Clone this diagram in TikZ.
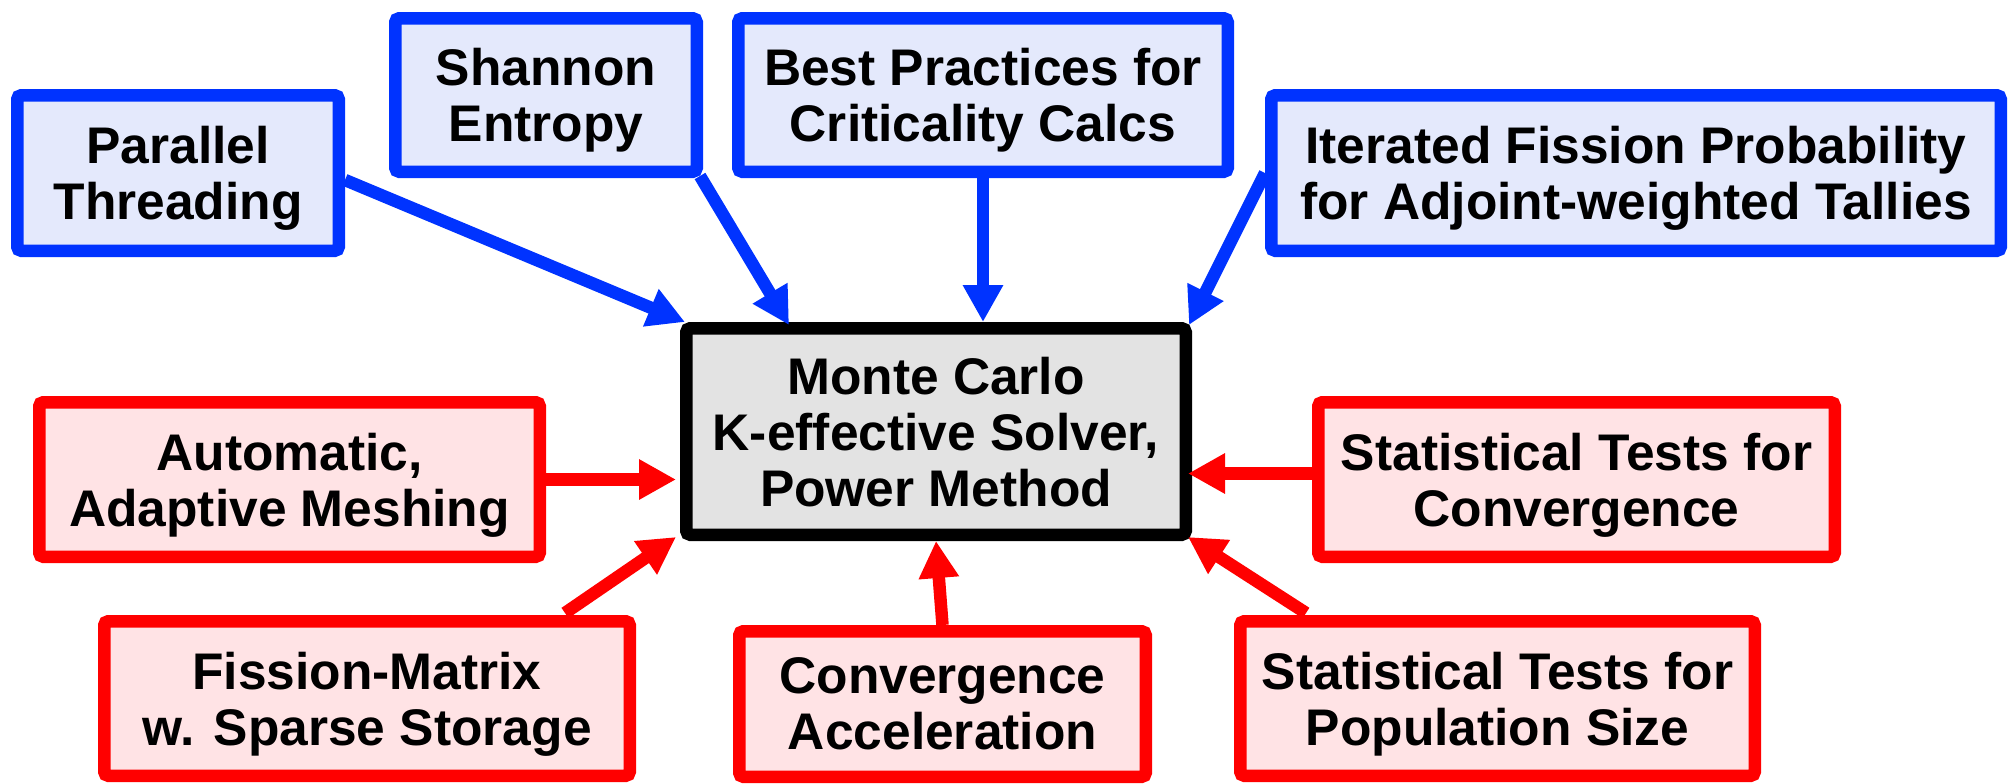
\documentclass[tikz,border=0pt]{standalone}
\usepackage{fontspec}
\setmainfont{Liberation Sans}
\usetikzlibrary{arrows.meta,calc}
\definecolor{bblue}{HTML}{0033FF}
\definecolor{bfill}{HTML}{E4E9FC}
\definecolor{rred}{HTML}{FF0000}
\definecolor{rfill}{HTML}{FFE3E5}
\definecolor{gfill}{HTML}{E3E3E3}
\begin{document}
\begin{tikzpicture}[x=0.5pt,y=0.5pt,
  box/.style={draw, line width=6.25pt, rounded corners=2pt, align=center,
    font=\fontsize{25.75}{28}\selectfont\bfseries, inner sep=0pt, text depth=0pt},
  bluebox/.style={box, draw=bblue, fill=bfill},
  redbox/.style={box, draw=rred, fill=rfill},
  centerbox/.style={box, draw=black, fill=gfill},
  arr/.style={line width=6.25pt, -{Triangle[length=18.5pt,width=19pt]}},
  barr/.style={arr, draw=bblue, fill=bblue},
  rarr/.style={arr, draw=rred, fill=rred}
]
\useasboundingbox (0,0) rectangle (2009,-783);

\node[centerbox, minimum width=249.75pt, minimum height=103.25pt] (mc) at (936,-431.5)
  {Monte Carlo\\K-effective Solver,\\Power Method};

\node[bluebox, minimum width=160.75pt, minimum height=77.75pt] (par) at (178,-173)
  {Parallel\\Threading};
\node[bluebox, minimum width=150.75pt, minimum height=76.75pt] (sha) at (546,-95)
  {Shannon\\Entropy};
\node[bluebox, minimum width=244.75pt, minimum height=76.75pt] (bes) at (983,-95)
  {Best Practices for\\Criticality Calcs};
\node[bluebox, minimum width=364.75pt, minimum height=77.75pt] (ite) at (1636,-173)
  {Iterated Fission Probability\\for Adjoint-weighted Tallies};

\node[redbox, minimum width=250.25pt, minimum height=77.25pt] (aut) at (289.5,-479.5)
  {Automatic,\\Adaptive Meshing};
\node[redbox, minimum width=258.25pt, minimum height=77.25pt] (stc) at (1576.5,-479.5)
  {Statistical Tests for\\Convergence};
\node[redbox, minimum width=262.75pt, minimum height=77.25pt] (fis) at (367,-698.5)
  {Fission-Matrix\\w. Sparse Storage};
\node[redbox, minimum width=203.25pt, minimum height=72.75pt] (acc) at (942.5,-704)
  {Convergence\\Acceleration};
\node[redbox, minimum width=257.25pt, minimum height=77.25pt] (stp) at (1497.5,-698.5)
  {Statistical Tests for\\Population Size};

% blue arrows
\draw[barr] ([yshift=-3.5pt]par.east) -- ([xshift=2.5pt]mc.north west);
\draw[barr] ([xshift=-1.5pt,yshift=1pt]sha.south east) -- ([xshift=-73.5pt,yshift=-1.5pt]mc.north);
\draw[barr] (bes.south) -- (bes.south |- mc.north);
\draw[barr] (ite.west) -- ([xshift=-1.5pt,yshift=-1.5pt]mc.north east);

% red arrows
\draw[rarr] (aut.east) -- ([xshift=-2pt]aut.east -| mc.west);
\draw[rarr] ([xshift=99pt,yshift=1pt]fis.north) -- ([xshift=-2pt,yshift=2pt]mc.south west);
\draw[rarr] (acc.north) -- (mc.south);
\draw[rarr] ([yshift=3pt]stc.west) -- ([xshift=-2pt,yshift=3pt]stc.west -| mc.east);
\draw[rarr] ([xshift=-95.75pt,yshift=1pt]stp.north) -- ([xshift=-2pt,yshift=2pt]mc.south east);
\end{tikzpicture}
\end{document}
